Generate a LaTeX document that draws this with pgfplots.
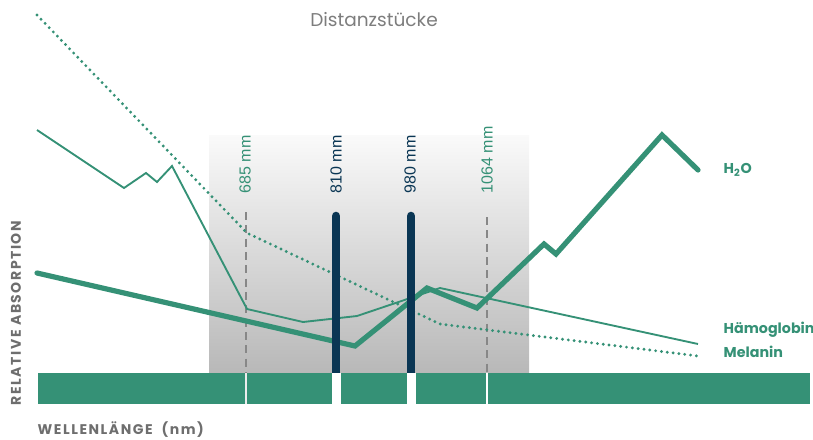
\documentclass[border=0pt]{standalone}
\usepackage{fontspec}
\setmainfont{Poppins}
\newfontfamily\arialfont{Liberation Sans}
\newfontfamily\axtitlefont[LetterSpace=11]{Poppins}
\usepackage{pgfplots}
\pgfplotsset{compat=1.18}
\definecolor{hgreen}{RGB}{53,145,118}
\definecolor{navy}{RGB}{10,54,84}
\definecolor{txtgrey}{RGB}{110,110,110}
\definecolor{ttlgrey}{RGB}{125,125,125}
\definecolor{dashgrey}{RGB}{135,135,135}
\definecolor{gtop}{RGB}{250,250,250}
\definecolor{gbot}{RGB}{184,184,184}
\begin{document}
\begin{tikzpicture}
\begin{axis}[
  width=609.75pt, height=329.25pt, scale only axis,
  xmin=0, xmax=813, ymin=0, ymax=439, y dir=reverse,
  hide axis, clip=false
]
% shaded window
\fill[top color=gtop, bottom color=gbot] (axis cs:209,135) rectangle (axis cs:529,373);
% dashed marker lines
\addplot[dashgrey, line width=0.9pt, dash pattern=on 6pt off 4pt] coordinates {(246,212) (246,373)};
\addplot[dashgrey, line width=0.9pt, dash pattern=on 6pt off 4pt] coordinates {(487,217) (487,373)};
% Melanin
\addplot[hgreen, line width=2.4pt, dash pattern=on 0pt off 4.4pt, line cap=round] coordinates {
(37,15) (247,233) (440,324) (698,356)
};
% Haemoglobin
\addplot[hgreen, line width=1.4pt, line join=miter] coordinates {
(37,130) (124,188) (146,173) (157,182) (172,166) (247,309) (303,322) (357,316) (440,288) (698,344)
};
% H2O
\addplot[hgreen, line width=3.9pt, line join=miter, line cap=round] coordinates {
(37,273) (355,346) (427,288) (477,308) (544,244) (556,254) (662,135) (698,170)
};
% laser bars
\addplot[navy, line width=6.4pt, line cap=round] coordinates {(336,216) (336,380)};
\addplot[navy, line width=6.4pt, line cap=round] coordinates {(411,216) (411,380)};
% bottom band
\fill[hgreen] (axis cs:38,373) rectangle (axis cs:810,404);
\fill[white] (axis cs:332,373) rectangle (axis cs:341,405);
\fill[white] (axis cs:407,373) rectangle (axis cs:416,405);
\draw[white!85!gray, line width=0.8pt] (axis cs:246,373) -- (axis cs:246,404);
\draw[white, line width=0.8pt] (axis cs:487,373) -- (axis cs:487,404);
% wavelength labels
\node[rotate=90, anchor=west, text=hgreen, font=\arialfont\fontsize{12}{14}\selectfont] at (axis cs:245,198) {685 mm};
\node[rotate=90, anchor=west, text=navy, font=\arialfont\fontsize{12}{14}\selectfont] at (axis cs:336,198) {810 mm};
\node[rotate=90, anchor=west, text=navy, font=\arialfont\fontsize{12}{14}\selectfont] at (axis cs:410,198) {980 mm};
\node[rotate=90, anchor=west, text=hgreen, font=\arialfont\fontsize{12}{14}\selectfont] at (axis cs:487,198) {1064 mm};
% title
\node[text=ttlgrey, font=\fontsize{13.9}{16}\selectfont] at (axis cs:374,20) {Distanzstücke};
% series names
\node[anchor=west, text=hgreen, font=\bfseries\fontsize{10.7}{12}\selectfont] at (axis cs:719,170) {H\textsubscript{2}O};
\node[anchor=west, text=hgreen, font=\bfseries\fontsize{10.7}{12}\selectfont] at (axis cs:719,330) {Hämoglobin};
\node[anchor=west, text=hgreen, font=\bfseries\fontsize{10.7}{12}\selectfont] at (axis cs:719,352) {Melanin};
% axis titles
\node[rotate=90, text=txtgrey, font=\axtitlefont\bfseries\fontsize{10.5}{12}\selectfont] at (axis cs:16,313) {RELATIVE ABSORPTION};
\node[anchor=west, text=txtgrey, font=\axtitlefont\bfseries\fontsize{10.5}{12}\selectfont] at (axis cs:33,430) {WELLENLÄNGE\ \ (nm)};
\end{axis}
\pgfresetboundingbox
\path[use as bounding box] (current axis.south west) rectangle (current axis.north east);
\end{tikzpicture}
\end{document}
